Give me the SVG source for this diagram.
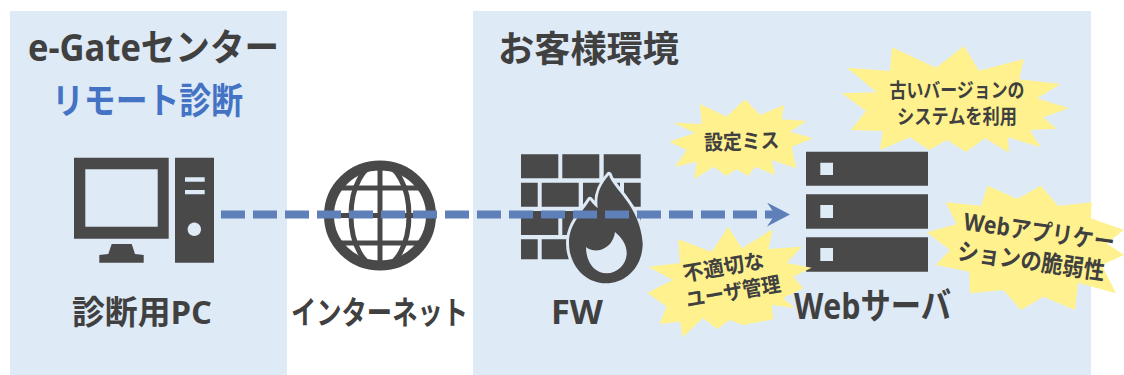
<svg xmlns="http://www.w3.org/2000/svg" width="1124" height="375" viewBox="0 0 1124 375">
<style>
text{font-family:"Open Sans","Noto Sans CJK JP","Liberation Sans",sans-serif;font-weight:700;fill:#404040}
.panel{fill:#DEEAF6}
.icon{fill:#494949}
.star{fill:#FFF28E}
.hole{fill:#DEEAF6}
.mid{text-anchor:middle}
</style>
<defs>
<marker id="head" markerUnits="userSpaceOnUse" markerWidth="23" markerHeight="24" viewBox="0 0 23 24" refX="8" refY="12" orient="auto"><path d="M0,0 L23,12 L0,24 L8,12Z" fill="#5F7FB8"/></marker>
<clipPath id="globeClip"><ellipse cx="380" cy="215.5" rx="55" ry="54"/></clipPath>
</defs>
<rect width="1124" height="375" fill="#fff"/>
<g id="panel-center"><rect class="panel" x="10" y="11" width="277" height="364"/>
<text x="28" y="61" font-size="37" textLength="251" lengthAdjust="spacingAndGlyphs">e-Gateセンター</text>
<text x="52" y="114" font-size="36" textLength="191" lengthAdjust="spacingAndGlyphs" style="fill:#4472C4">リモート診断</text></g>
<g id="panel-customer"><rect class="panel" x="473" y="11" width="618" height="364"/>
<text x="498" y="62" font-size="36" textLength="181" lengthAdjust="spacingAndGlyphs">お客様環境</text></g>

<g id="pc" fill-rule="evenodd">
<path class="icon" d="M74,157.7H168.7V238.7H74Z M85.3,169.3V226.7H157.7V169.3Z"/>
<path class="icon" d="M111.7,244H131.7L135,254L143.7,255V262.7H99.3V255L108.3,254Z"/>
<path class="icon" d="M175,157.7H214V262.7H175Z M185,177.3V181.7H204.7V177.3Z M185,190V194.3H204.7V190Z M194.3,222.6a6.7,6.7 0 1,0 0.01,0Z"/>
<text x="72" y="324" font-size="33" textLength="140" lengthAdjust="spacingAndGlyphs">診断用PC</text>
</g>

<g id="internet">
<ellipse cx="380" cy="215.5" rx="51" ry="50" fill="none" stroke="#494949" stroke-width="10"/>
<g clip-path="url(#globeClip)" stroke="#494949" stroke-width="5" fill="none">
<ellipse cx="380" cy="215.5" rx="29" ry="52"/>
<path d="M380,160V270M320,188H440M320,215.5H440M320,243H440"/>
</g>
<text x="291" y="324" font-size="32" textLength="177" lengthAdjust="spacingAndGlyphs">インターネット</text>
</g>

<g id="fw">
<path class="icon" d="M521,154.3h37.3v24h-37.3Z M562.3,154.3h37v24h-37Z M603.7,154.3h37v24h-37Z M521,182.7h16.7v24h-16.7Z M541.7,182.7h37v24h-37Z M583,182.7h37v24h-37Z M624,182.7h16.7v24h-16.7Z M521,211h37.3v24h-37.3Z M562.3,211h37v24h-37Z M603.7,211h37v24h-37Z M521,239.3h16.7v20h-16.7Z M541.7,239.3h37v20h-37Z"/>
<path d="M609,175 C612,188 640,205 642.7,243 C642.7,268 625,283.3 606,283.3 C585,283.3 569,265 569,243 C569,225 580,215 590,200 C593,204 595,206 597.7,208 C596,195 600,185 609,175Z" class="icon" stroke="#DEEAF6" stroke-width="6" paint-order="stroke" stroke-linejoin="round"/>
<path class="hole" d="M615,232 C622,238 627,245 626.7,254 C626,265 617,273.3 606.7,273.3 C595,273.3 586,263 586,247 C589,250 595,251 600,250 C608,248 614,241 615,232Z"/>
<text x="551" y="324" font-size="34" textLength="52" lengthAdjust="spacingAndGlyphs">FW</text>
</g>

<g id="server" fill-rule="evenodd">
<path class="icon" d="M806,151.7H928V185.7H806Z M820.3,162.7V175H833V162.7Z"/>
<path class="icon" d="M806,194.3H928V228.7H806Z M820.3,205V218H833V205Z"/>
<path class="icon" d="M806,237.3H928V271.7H806Z M820.3,248V261H833V248Z"/>
</g>

<g id="connectors">
<path d="M221,214.5H775" fill="none" stroke="#5F7FB8" stroke-width="8" stroke-dasharray="24 8" marker-end="url(#head)"/>
</g>

<g id="issue-old-system">
<polygon class="star" points="841.7,93.3 876.7,92.3 847,67.7 890,71 892,47.3 936,67.7 964,46 979,70.7 1024,59 1019,79.3 1060.7,84 1037,98.3 1069,108.3 1043,117.3 1056.7,128.7 1030,130 1040.7,147.3 1008,137.3 1009,152.7 985,138.3 966,152 947,140 929,150 910,137.3 880,150 882.7,131 850.7,130 866,111"/>
<text class="mid" x="957" y="98" font-size="20" textLength="135" lengthAdjust="spacingAndGlyphs">古いバージョンの</text>
<text class="mid" x="957" y="124" font-size="20" textLength="120" lengthAdjust="spacingAndGlyphs">システムを利用</text>
</g>
<g id="issue-config">
<polygon class="star" points="669.3,141.7 695,133 673.3,122.7 701.7,124 700,104 726.7,116.7 745,99.3 760,115 784,105 781.7,119.3 806.7,121 790,131.7 812.7,138.3 791.7,146.7 796,168.3 771.7,160 775,175 755,166.7 748.3,176 736.7,169.3 726,176 714,166.7 694.3,179 696.7,161.7 675,166.7 686.7,150"/>
<text class="mid" x="741.7" y="149" font-size="21" textLength="75" lengthAdjust="spacingAndGlyphs" transform="rotate(-2 741.7 143)">設定ミス</text>
</g>
<g id="issue-user">
<polygon class="star" points="647.3,292.7 673,280 648.3,266.7 680,263 678.3,239.3 711.7,251.7 728.3,226.7 741.7,248.3 772.7,229.3 768.3,249 801.7,246.7 786.7,263 811.7,267.7 793,276.7 803.3,288.3 783,298 795,308 771.7,305 773.3,319.3 743,325 730,320 717,329 703,318 682.7,337.3 680,321.7 659.3,324 666.7,306.7"/>
<g transform="rotate(-10 728 280)">
<text class="mid" x="726" y="274" font-size="21" textLength="82" lengthAdjust="spacingAndGlyphs">不適切な</text>
<text class="mid" x="731" y="300" font-size="21" textLength="96" lengthAdjust="spacingAndGlyphs">ユーザ管理</text>
</g>
</g>
<g id="issue-webapp">
<polygon class="star" points="926.7,232.3 956.7,224.3 945.7,202.3 981,205.7 987.7,185.7 1017.3,199 1040.7,185.7 1058.3,206 1091.7,202.3 1090.7,218.3 1124,230 1106.7,243.3 1124,255 1101.7,265 1116,293.3 1078,283 1075,310 1043.3,296.7 1021,310 1003.3,290 970,293.3 969.3,271.7 935.7,265 950,250"/>
<g transform="rotate(8 1035 248)">
<text class="mid" transform="translate(1037 240) scale(.8 1)" font-size="24" textLength="190" lengthAdjust="spacingAndGlyphs">Webアプリケー</text>
<text class="mid" transform="translate(1033 270) scale(.9 1)" font-size="24" textLength="165" lengthAdjust="spacingAndGlyphs">ションの脆弱性</text>
</g>
</g>
<g id="server-label"><text x="794" y="319" font-size="36" textLength="157" lengthAdjust="spacingAndGlyphs">Webサーバ</text></g>
</svg>
